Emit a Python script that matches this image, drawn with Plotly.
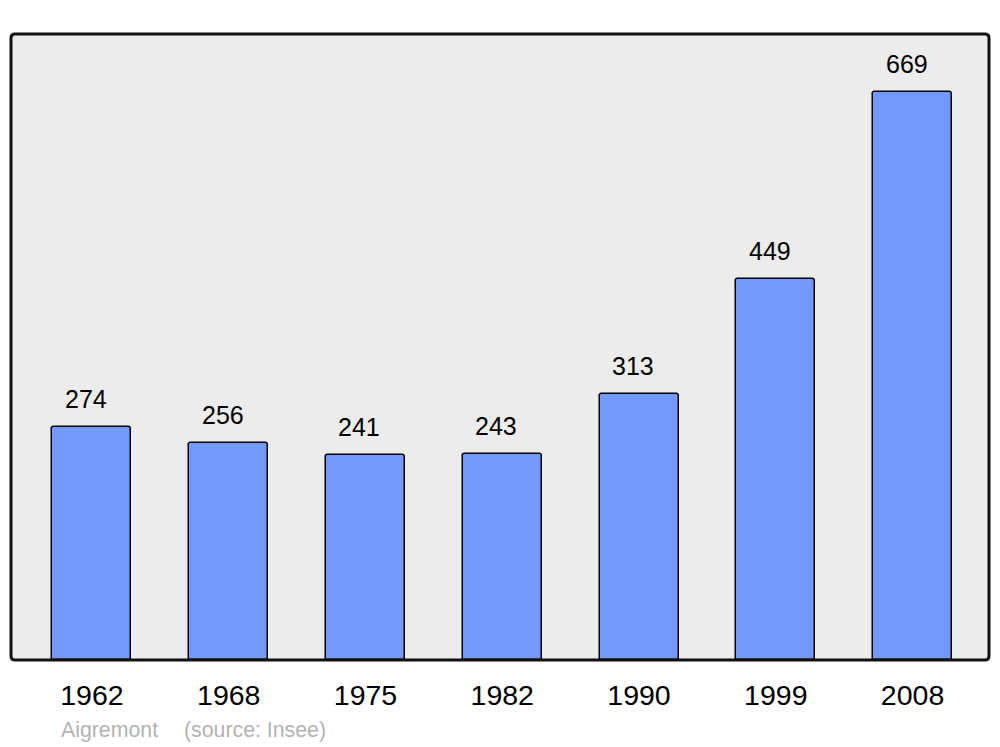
import plotly.graph_objects as go

years = ["1962", "1968", "1975", "1982", "1990", "1999", "2008"]
population = [274, 256, 241, 243, 313, 449, 669]
commune = "Aigremont"
source = "(source: Insee)"

W, H = 1000, 747
L, R, T, B = 11, 989, 34, 660

xs = list(range(len(years)))

fig = go.Figure()
fig.add_trace(go.Bar(
    x=xs, y=population, width=0.578,
    marker=dict(color="#7399ff", line=dict(color="#000000", width=1.5), cornerradius=3),
    hoverinfo="skip",
))

for x, v in zip(xs, population):
    fig.add_annotation(x=x, y=v, text=str(v), showarrow=False, yanchor="middle",
                       yshift=28, xshift=-6,
                       font=dict(family="Liberation Sans, Arial", size=25, color="#000"))

# rounded frame
pw, ph = R - L, B - T
r = 4
def px(xp): return (xp - L) / pw
def py(yp): return (B - yp) / ph
path = (f"M {px(L+r)},{py(T)} L {px(R-r)},{py(T)} Q {px(R)},{py(T)} {px(R)},{py(T+r)} "
        f"L {px(R)},{py(B-r)} Q {px(R)},{py(B)} {px(R-r)},{py(B)} "
        f"L {px(L+r)},{py(B)} Q {px(L)},{py(B)} {px(L)},{py(B-r)} "
        f"L {px(L)},{py(T+r)} Q {px(L)},{py(T)} {px(L+r)},{py(T)} Z")
fig.add_shape(type="path", path=path, xref="paper", yref="paper",
              line=dict(color="#111111", width=3), layer="above")

fig.add_annotation(x=px(59), y=py(730), xref="paper", yref="paper", text=commune,
                   showarrow=False, xanchor="left", yanchor="middle",
                   font=dict(family="Liberation Sans, Arial", size=21.3, color="#b3b3b3"))
fig.add_annotation(x=px(182), y=py(730), xref="paper", yref="paper", text=source,
                   showarrow=False, xanchor="left", yanchor="middle",
                   font=dict(family="Liberation Sans, Arial", size=21.3, color="#b3b3b3"))

fig.update_layout(
    width=W, height=H,
    margin=dict(l=L, r=W - R, t=T, b=H - B, pad=0),
    paper_bgcolor="#ffffff", plot_bgcolor="#ececec",
    showlegend=False, bargap=0,
    xaxis=dict(range=[-0.592, 6.559], tickvals=xs, ticktext=years, showgrid=False,
               zeroline=False, showline=False, ticks="", ticklabelstandoff=15,
               tickfont=dict(family="Liberation Sans, Arial", size=28.5, color="#000"),
               fixedrange=True),
    yaxis=dict(range=[0, 737.3], showticklabels=False, showgrid=False, zeroline=False,
               showline=False, ticks="", fixedrange=True),
)

fig.write_html("out.html", config={"displayModeBar": False},
               post_script="document.body.style.margin='0';document.body.style.overflow='hidden';")
